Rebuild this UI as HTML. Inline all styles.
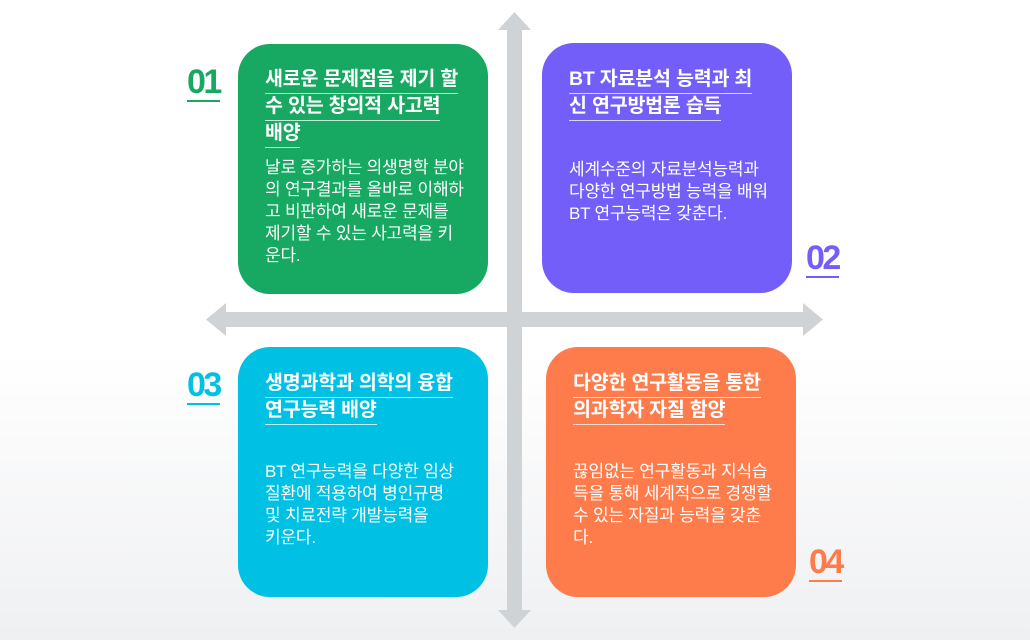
<!DOCTYPE html>
<html><head><meta charset="utf-8"><style>
*{margin:0;padding:0;box-sizing:border-box}
body{width:1030px;height:640px;overflow:hidden;position:relative;background:linear-gradient(#fff 0%,#fff 55%,#eff0f2 100%);font-family:"Liberation Sans","Noto Sans CJK KR",sans-serif;color:#fff}
.box{position:absolute;width:250px;height:250px;border-radius:32px}
.t{position:absolute;font-size:19.5px;font-weight:bold;letter-spacing:-0.2px}
.t div{display:inline-block;height:27px;line-height:25px;border-bottom:1px solid rgba(255,255,255,.75);white-space:nowrap}
.b{position:absolute;font-size:17px;line-height:22px;letter-spacing:-0.2px;white-space:nowrap}
.n{position:absolute;font-size:34px;font-weight:bold;letter-spacing:-2.5px;line-height:32px;padding-bottom:2px;border-bottom:2px solid}
</style></head><body>
<div style="position:absolute;left:507px;top:28px;width:15px;height:584px;background:#d0d3d6"></div>
<div style="position:absolute;left:224px;top:312px;width:582px;height:15px;background:#d0d3d6"></div>
<svg style="position:absolute;left:0;top:0" width="1030" height="640">
<polygon points="514.5,12 498,30 531,30" fill="#d0d3d6"/>
<polygon points="514.5,628 498,610 531,610" fill="#d0d3d6"/>
<polygon points="206,319.5 226,303 226,336" fill="#d0d3d6"/>
<polygon points="823,319.5 803,303 803,336" fill="#d0d3d6"/>
</svg>
<div class="box" style="left:238px;top:44px;background:#17a862"></div>
<div class="box" style="left:542px;top:43px;background:#735ef9"></div>
<div class="box" style="left:238px;top:347px;background:#00c1e4"></div>
<div class="box" style="left:546px;top:347px;background:#fe7c4b"></div>

<div class="t" style="left:265px;top:67px"><div>새로운 문제점을 제기 할</div><br><div>수 있는 창의적 사고력</div><br><div>배양</div></div>
<div class="b" style="left:265px;top:157px">날로 증가하는 의생명학 분야<br>의 연구결과를 올바로 이해하<br>고 비판하여 새로운 문제를<br>제기할 수 있는 사고력을 키<br>운다.</div>

<div class="t" style="left:569px;top:67px"><div>BT 자료분석 능력과 최</div><br><div>신 연구방법론 습득</div></div>
<div class="b" style="left:569px;top:159px">세계수준의 자료분석능력과<br>다양한 연구방법 능력을 배워<br>BT 연구능력은 갖춘다.</div>

<div class="t" style="left:265px;top:371px"><div>생명과학과 의학의 융합</div><br><div>연구능력 배양</div></div>
<div class="b" style="left:265px;top:461px">BT 연구능력을 다양한 임상<br>질환에 적용하여 병인규명<br>및 치료전략 개발능력을<br>키운다.</div>

<div class="t" style="left:573px;top:371px"><div>다양한 연구활동을 통한</div><br><div>의과학자 자질 함양</div></div>
<div class="b" style="left:573px;top:461px">끊임없는 연구활동과 지식습<br>득을 통해 세계적으로 경쟁할<br>수 있는 자질과 능력을 갖춘<br>다.</div>

<div class="n" style="left:187px;top:66px;color:#17a862">01</div>
<div class="n" style="left:806px;top:242px;color:#735ef9">02</div>
<div class="n" style="left:187px;top:369px;color:#00c1e4">03</div>
<div class="n" style="left:809px;top:546px;color:#fe7c4b">04</div>
</body></html>
